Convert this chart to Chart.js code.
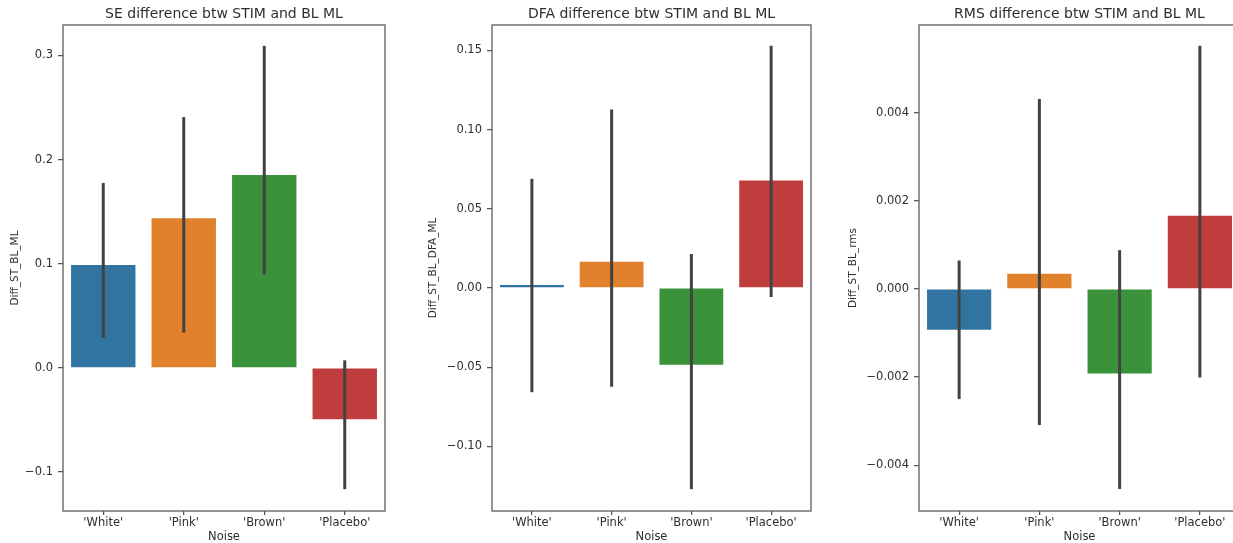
<!DOCTYPE html>
<html>
<head>
<meta charset="utf-8">
<script src="https://cdn.jsdelivr.net/npm/chart.js@4/dist/chart.umd.min.js"></script>
<style>
  html, body { margin: 0; padding: 0; background: #fff; overflow: hidden; width: 1233px; height: 543px; }
  canvas { position: absolute; top: 0; }
</style>
</head>
<body>
<canvas id="se" width="400" height="543" style="left:0px"></canvas>
<canvas id="dfa" width="420" height="543" style="left:405px"></canvas>
<canvas id="rms" width="410" height="543" style="left:830px"></canvas>
<script>
// Noise conditions and bar colours
const categories = ["'White'", "'Pink'", "'Brown'", "'Placebo'"];
const barColors = ['#3274a1', '#e1812c', '#3a923a', '#c03d3e'];

// SE: mean difference and confidence interval per condition
const seMeans = [0.0988, 0.1437, 0.1853, -0.0492];
const seLow   = [0.0289, 0.0339, 0.0898, -0.1164];
const seHigh  = [0.1776, 0.2408, 0.3093, 0.0073];
const seTicks = [-0.1, 0.0, 0.1, 0.2, 0.3];
const seTickLabels = ['\u22120.1', '0.0', '0.1', '0.2', '0.3'];
const seRange = [-0.1374, 0.3293];

// DFA: mean difference and confidence interval per condition
const dfaMeans = [0.0018, 0.0166, -0.0485, 0.0678];
const dfaLow   = [-0.0658, -0.0623, -0.1270, -0.0057];
const dfaHigh  = [0.0689, 0.1126, 0.0214, 0.1529];
const dfaTicks = [-0.10, -0.05, 0.00, 0.05, 0.10, 0.15];
const dfaTickLabels = ['\u22120.10', '\u22120.05', '0.00', '0.05', '0.10', '0.15'];
const dfaRange = [-0.1408, 0.1660];

// RMS: mean difference and confidence interval per condition
const rmsMeans = [-0.000927, 0.000346, -0.00192, 0.00166];
const rmsLow   = [-0.00250, -0.00309, -0.00454, -0.00201];
const rmsHigh  = [0.000644, 0.00431, 0.00088, 0.00552];
const rmsTicks = [-0.004, -0.002, 0.000, 0.002, 0.004];
const rmsTickLabels = ['\u22120.004', '\u22120.002', '0.000', '0.002', '0.004'];
const rmsRange = [-0.00504, 0.00599];

const FONT = 'DejaVu Sans';
const TEXT = '#2e2e2e';
const SPINE = '#555555';

// Vertical confidence-interval lines drawn on top of the bars
const errorBars = {
  id: 'errorBars',
  afterDatasetsDraw(chart, args, opts) {
    const ctx = chart.ctx;
    const meta = chart.getDatasetMeta(0);
    const y = chart.scales.y;
    ctx.save();
    ctx.strokeStyle = '#424242';
    ctx.lineWidth = 3;
    ctx.lineCap = 'butt';
    meta.data.forEach((bar, i) => {
      ctx.beginPath();
      ctx.moveTo(bar.x, y.getPixelForValue(opts.low[i]));
      ctx.lineTo(bar.x, y.getPixelForValue(opts.high[i]));
      ctx.stroke();
    });
    ctx.restore();
  }
};

// Frame around the plotting area and the panel title centred above it
const frame = {
  id: 'frame',
  afterDraw(chart, args, opts) {
    const {left, right, top, bottom} = chart.chartArea;
    const ctx = chart.ctx;
    ctx.save();
    ctx.strokeStyle = SPINE;
    ctx.lineWidth = 1.25;
    ctx.strokeRect(left, top, right - left, bottom - top);
    ctx.fillStyle = TEXT;
    ctx.font = '14px "' + FONT + '"';
    ctx.textAlign = 'center';
    ctx.textBaseline = 'middle';
    ctx.fillText(opts.text, (left + right) / 2, 14);
    ctx.restore();
  }
};

function makePanel(id, cfg) {
  new Chart(document.getElementById(id), {
    type: 'bar',
    data: {
      labels: categories,
      datasets: [{
        data: cfg.means,
        backgroundColor: barColors,
        borderWidth: 0,
        categoryPercentage: 0.8,
        barPercentage: 1.0
      }]
    },
    plugins: [errorBars, frame],
    options: {
      responsive: false,
      animation: false,
      devicePixelRatio: 1,
      layout: { padding: { left: 0, right: cfg.padRight, top: 25, bottom: 0 } },
      plugins: {
        legend: { display: false },
        tooltip: { enabled: false },
        title: { display: false },
        frame: { text: cfg.title },
        errorBars: { low: cfg.low, high: cfg.high }
      },
      scales: {
        x: {
          offset: true,
          grid: { display: true, offset: false, drawOnChartArea: false, drawTicks: true, tickLength: 4, color: SPINE, lineWidth: 1.25 },
          border: { display: false },
          ticks: { color: TEXT, padding: 1, font: { family: FONT, size: 11.5 }, maxRotation: 0 },
          title: {
            display: true, text: 'Noise', color: TEXT,
            font: { family: FONT, size: 11.5, lineHeight: 1 },
            padding: { top: 0, bottom: 0.5 }
          },
          afterFit(scale) { scale.height = 32; }
        },
        y: {
          min: cfg.range[0],
          max: cfg.range[1],
          grid: { display: true, drawOnChartArea: false, drawTicks: true, tickLength: 5, color: SPINE, lineWidth: 1.25 },
          border: { display: false },
          ticks: {
            color: TEXT, padding: 5,
            font: { family: FONT, size: 11.5 },
            callback(value) {
              const k = cfg.ticks.findIndex(t => Math.abs(t - value) < 1e-9);
              return k >= 0 ? cfg.tickLabels[k] : '';
            }
          },
          afterBuildTicks(scale) {
            scale.ticks = cfg.ticks.map(v => ({ value: v }));
          },
          title: {
            display: true, text: cfg.yTitle, color: TEXT,
            font: { family: FONT, size: 10.5, lineHeight: 1 },
            padding: { top: cfg.yTitlePad, bottom: 0 }
          },
          afterFit(scale) { scale.width = cfg.yWidth; }
        }
      }
    }
  });
}

makePanel('se', {
  title: 'SE difference btw STIM and BL ML',
  yTitle: 'Diff_ST_BL_ML',
  means: seMeans, low: seLow, high: seHigh,
  ticks: seTicks, tickLabels: seTickLabels, range: seRange,
  yWidth: 63, padRight: 15, yTitlePad: 9.75
});

makePanel('dfa', {
  title: 'DFA difference btw STIM and BL ML',
  yTitle: 'Diff_ST_BL_DFA_ML',
  means: dfaMeans, low: dfaLow, high: dfaHigh,
  ticks: dfaTicks, tickLabels: dfaTickLabels, range: dfaRange,
  yWidth: 87, padRight: 14, yTitlePad: 23
});

makePanel('rms', {
  title: 'RMS difference btw STIM and BL ML',
  yTitle: 'Diff_ST_BL_rms',
  means: rmsMeans, low: rmsLow, high: rmsHigh,
  ticks: rmsTicks, tickLabels: rmsTickLabels, range: rmsRange,
  yWidth: 89, padRight: 0, yTitlePad: 18
});
</script>
</body>
</html>
